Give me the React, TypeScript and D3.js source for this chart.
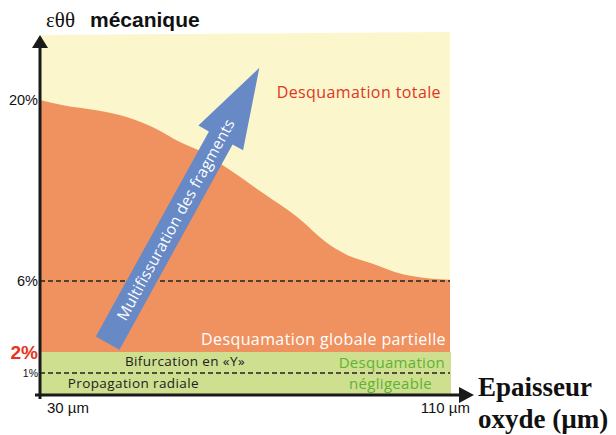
import * as d3 from "d3";

// oxide thickness (µm) read along the boundary partial / total spalling
const thickness = [30, 34.5, 41, 47.5, 53, 57, 62, 67, 73.5, 80, 86.5, 90, 94.5, 101, 106, 110];
// hoop strain εθθ (%) at that boundary
const strainLimit = [20, 19.6, 19.2, 18.6, 17.7, 16.8, 15.9, 14.6, 12.8, 11.0, 8.8, 8.0, 7.4, 6.5, 6.2, 6.1];

const yTickValues = [20, 6, 2, 1];
const yTickLabels = ["20%", "6%", "2%", "1%"];
const xTickValues = [30, 110];
const xTickLabels = ["30 µm", "110 µm"];

const strainTop = 25;
const greenLimit = 2;
const bifurcationLimit = 1;

// arrow "Multifissuration des fragments", in data units
const arrowFrom = { t: 43.2, s: 2.5 };
const arrowTo = { t: 72.8, s: 22.4 };

const W = 616;
const H = 435;
const FONT = "'Open Sans', 'Noto Sans', sans-serif";

export default function App() {
  const x = d3.scaleLinear().domain([30, 110]).range([40, 450]);
  // schematic, non-linear strain axis
  const y = d3.scaleLinear().domain([0, 1, 2, 6, 20, 25]).range([395, 373, 352, 281, 100, 33]);

  const pts = thickness.map((t, i) => ({ t, s: strainLimit[i] }));

  const orangeArea = d3.area<{ t: number; s: number }>()
    .x(d => x(d.t))
    .y0(y(greenLimit))
    .y1(d => y(d.s))
    .curve(d3.curveMonotoneX)(pts);

  // arrow geometry
  const x0 = x(arrowFrom.t), y0 = y(arrowFrom.s);
  const x1 = x(arrowTo.t), y1 = y(arrowTo.s);
  const len = Math.hypot(x1 - x0, y1 - y0);
  const ux = (x1 - x0) / len, uy = (y1 - y0) / len;
  const nx = -uy, ny = ux;
  const sw = 13.5, hw = 25.5, hl = 80;
  const bx = x1 - ux * hl, by = y1 - uy * hl;
  const arrowPts = [
    [x0 + nx * sw, y0 + ny * sw],
    [bx + nx * sw, by + ny * sw],
    [bx + nx * hw, by + ny * hw],
    [x1, y1],
    [bx - nx * hw, by - ny * hw],
    [bx - nx * sw, by - ny * sw],
    [x0 - nx * sw, y0 - ny * sw],
  ].map(p => p.join(",")).join(" ");
  const angle = (Math.atan2(y1 - y0, x1 - x0) * 180) / Math.PI;
  const tx = x0 + ux * 141, ty = y0 + uy * 141;

  const yTickStyle = [
    { size: 14.5, weight: "normal", color: "#111" },
    { size: 14.5, weight: "normal", color: "#111" },
    { size: 19, weight: "bold", color: "#e8341c" },
    { size: 10.5, weight: "normal", color: "#111" },
  ];

  return (
    <svg width={W} height={H} style={{ position: "absolute", left: 0, top: 0, background: "#fff" }}>
      {/* total spalling zone */}
      <polygon
        points={`${x(30)},${y(strainTop) + 2} ${x(110)},${y(strainTop) - 1} ${x(110)},${y(greenLimit)} ${x(30)},${y(greenLimit)}`}
        fill="#fbf6cc"
      />
      {/* partial spalling zone */}
      <path d={orangeArea ?? ""} fill="#ef9260" />
      {/* negligible zone */}
      <rect x={x(30)} y={y(greenLimit)} width={x(110) - x(30) + 1} height={y(0) - y(greenLimit)} fill="#cedf8f" />

      {/* dashed levels */}
      <line x1={x(30)} x2={x(110)} y1={y(6)} y2={y(6)} stroke="#222" strokeWidth={1.5} strokeDasharray="5,3" />
      <line x1={x(30)} x2={x(110)} y1={y(bifurcationLimit)} y2={y(bifurcationLimit)} stroke="#222" strokeWidth={1.5} strokeDasharray="5,3" />

      {/* arrow */}
      <polygon points={arrowPts} fill="#6789c6" />
      <text
        x={tx}
        y={ty}
        dy="0.35em"
        transform={`rotate(${angle},${tx},${ty})`}
        textAnchor="middle"
        fill="#fff"
        fontFamily={FONT}
        fontSize={15.5}
        letterSpacing={0.2}
      >
        Multifissuration des fragments
      </text>

      {/* zone labels */}
      <text x={441} y={98} textAnchor="end" fill="#e2341f" fontFamily={FONT} fontSize={16} letterSpacing={0.4}>
        Desquamation totale
      </text>
      <text x={446} y={345} textAnchor="end" fill="#fff" fontFamily={FONT} fontSize={16} letterSpacing={0.4}>
        Desquamation globale partielle
      </text>
      <text x={245} y={366} textAnchor="end" fill="#222" fontFamily={FONT} fontSize={13.5} letterSpacing={0.4}>
        Bifurcation en «Y»
      </text>
      <text x={199} y={388} textAnchor="end" fill="#222" fontFamily={FONT} fontSize={13.5} letterSpacing={0.4}>
        Propagation radiale
      </text>
      <text x={445} y={368} textAnchor="end" fill="#5db332" fontFamily={FONT} fontSize={15} letterSpacing={0.3}>
        Desquamation
      </text>
      <text x={432} y={389} textAnchor="end" fill="#5db332" fontFamily={FONT} fontSize={15} letterSpacing={0.3}>
        négligeable
      </text>

      {/* axes */}
      <line x1={40} x2={40} y1={y(0) + 4} y2={y(strainTop) + 12} stroke="#1a1a1a" strokeWidth={3} />
      <polygon points={`40,${y(strainTop) + 2} 32,${y(strainTop) + 15} 48,${y(strainTop) + 15}`} fill="#1a1a1a" />
      <line x1={35} x2={462} y1={y(0)} y2={y(0)} stroke="#1a1a1a" strokeWidth={3} />
      <polygon points={`474,${y(0)} 459,${y(0) - 8} 459,${y(0) + 8}`} fill="#1a1a1a" />

      {yTickValues.map((v, i) => (
        <text
          key={v}
          x={38}
          y={y(v)}
          dy="0.35em"
          textAnchor="end"
          fontFamily="'Liberation Sans', Arial, sans-serif"
          fontSize={yTickStyle[i].size}
          fontWeight={yTickStyle[i].weight}
          fill={yTickStyle[i].color}
        >
          {yTickLabels[i]}
        </text>
      ))}

      {xTickValues.map((v, i) => (
        <text
          key={v}
          x={i === 0 ? x(v) + 7 : x(v) + 20}
          y={413}
          textAnchor={i === 0 ? "start" : "end"}
          fontFamily="'Liberation Sans', Arial, sans-serif"
          fontSize={15}
          fill="#111"
        >
          {xTickLabels[i]}
        </text>
      ))}

      {/* axis titles */}
      <text x={46} y={27} fontFamily="'Liberation Serif', 'Times New Roman', serif" fontSize={21} fill="#111">
        εθθ
      </text>
      <text x={90} y={27} fontFamily="'Liberation Sans', Arial, sans-serif" fontSize={21} fontWeight="bold" fill="#111">
        mécanique
      </text>
      <text x={478} y={396} fontFamily="'Liberation Serif', 'Times New Roman', serif" fontSize={27} fontWeight="bold" fill="#111">
        Epaisseur
      </text>
      <text x={478} y={428} fontFamily="'Liberation Serif', 'Times New Roman', serif" fontSize={27} fontWeight="bold" fill="#111">
        oxyde (µm)
      </text>
    </svg>
  );
}
